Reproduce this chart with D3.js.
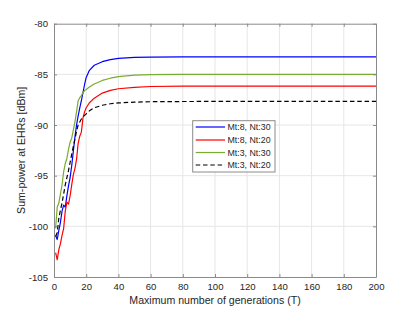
<!DOCTYPE html>
<html>
<head>
<meta charset="utf-8">
<script src="https://cdn.jsdelivr.net/npm/d3@7"></script>
<style>
html,body{margin:0;padding:0;background:#fff;}
svg{display:block;font-family:"Liberation Sans",Arial,Helvetica,sans-serif;}
</style>
</head>
<body>
<svg id="chart" width="415" height="312"></svg>
<script>
// ---- data ----
const generations = [1,2,3,4,5,6,7,8,9,10,11,12,13,14,15,16,17,18,19,20,22,25,30,35,40,50,60,80,100,150,200];
const mt8nt30 = [-100.9,-101.3,-100.4,-99.6,-98.5,-97.9,-98.1,-97.0,-96.0,-95.2,-94.0,-92.6,-91.2,-90.0,-89.1,-88.3,-87.6,-86.8,-86.0,-85.3,-84.6,-84.1,-83.75,-83.55,-83.42,-83.33,-83.3,-83.28,-83.28,-83.28,-83.28];
const mt8nt20 = [-102.6,-103.3,-102.3,-101.7,-100.9,-100.2,-98.5,-97.6,-97.8,-97.0,-95.9,-94.9,-94.3,-93.4,-91.8,-91.1,-90.7,-89.3,-88.7,-88.3,-87.8,-87.35,-86.85,-86.58,-86.42,-86.28,-86.2,-86.17,-86.16,-86.16,-86.16];
const mt3nt30 = [-100.2,-98.1,-97.7,-96.8,-95.9,-94.6,-93.8,-93.3,-92.4,-91.7,-91.3,-90.5,-89.7,-88.7,-87.6,-87.3,-87.1,-86.8,-86.6,-86.5,-86.25,-85.95,-85.6,-85.38,-85.22,-85.08,-85.03,-85.0,-85.0,-85.0,-85.0];
const mt3nt20 = [-101.0,-100.6,-99.2,-98.4,-97.7,-96.8,-95.9,-95.2,-94.5,-93.7,-92.9,-92.1,-91.4,-90.6,-90.0,-89.7,-89.4,-89.2,-89.05,-88.9,-88.6,-88.3,-88.05,-87.9,-87.82,-87.74,-87.7,-87.68,-87.67,-87.67,-87.67];
const seriesNames = ["Mt:8, Nt:30","Mt:8, Nt:20","Mt:3, Nt:30","Mt:3, Nt:20"];
const xTicks = [0,20,40,60,80,100,120,140,160,180,200];
const yTicks = [-105,-100,-95,-90,-85,-80];
const xLabel = "Maximum number of generations (T)";
const yLabel = "Sum-power at EHRs [dBm]";

// ---- layout ----
const L = 54, R = 376, T = 23.7, B = 277;
const svg = d3.select("#chart");
const x = d3.scaleLinear().domain([0,200]).range([L,R]);
const y = d3.scaleLinear().domain([-105,-80]).range([B,T]);

const axisColor = "#8a8a8a";
const textColor = "#262626";

// grid
svg.append("g").selectAll("line").data(xTicks.slice(1,-1)).join("line")
  .attr("x1",d=>x(d)).attr("x2",d=>x(d)).attr("y1",T).attr("y2",B)
  .attr("stroke","#e6e6e6").attr("stroke-width",1);
svg.append("g").selectAll("line").data(yTicks.slice(1,-1)).join("line")
  .attr("y1",d=>y(d)).attr("y2",d=>y(d)).attr("x1",L).attr("x2",R)
  .attr("stroke","#e6e6e6").attr("stroke-width",1);

// series
const seriesData = [mt8nt30, mt8nt20, mt3nt30, mt3nt20];
const colors = ["#0000ff","#ff0000","#77ac30","#000000"];
const dashes = [null,null,null,"4.5,2.8"];
const widths = [1.2,1.2,1.2,1.2];
svg.append("defs").append("clipPath").attr("id","clip")
  .append("rect").attr("x",L).attr("y",T).attr("width",R-L).attr("height",B-T);
const line = d3.line().x((d,i)=>x(generations[i])).y(d=>y(d));
const g = svg.append("g").attr("clip-path","url(#clip)");
seriesData.forEach((s,k)=>{
  g.append("path").datum(s).attr("d",line).attr("fill","none")
   .attr("stroke",colors[k]).attr("stroke-width",widths[k])
   .attr("stroke-linejoin","round")
   .attr("stroke-dasharray",dashes[k]);
});

// axes (box with inside ticks)
const fmt = d => String(d);
const xAxisB = d3.axisBottom(x).tickValues(xTicks).tickFormat(fmt).tickSizeInner(-3).tickSizeOuter(0).tickPadding(6);
const yAxisL = d3.axisLeft(y).tickValues(yTicks).tickFormat(fmt).tickSizeInner(-3).tickSizeOuter(0).tickPadding(6);
const xAxisT = d3.axisTop(x).tickValues(xTicks).tickSizeInner(-3).tickSizeOuter(0).tickFormat("");
const yAxisR = d3.axisRight(y).tickValues(yTicks).tickSizeInner(-3).tickSizeOuter(0).tickFormat("");

function style(sel){
  sel.select(".domain").attr("stroke",axisColor).attr("stroke-width",1);
  sel.selectAll(".tick line").attr("stroke",axisColor);
  sel.selectAll("text").attr("fill",textColor).style("font-size","9.6px")
    .style("font-family",'"Liberation Sans",Arial,sans-serif');
}
svg.append("g").attr("transform",`translate(0,${B})`).call(xAxisB).call(style);
svg.append("g").attr("transform",`translate(${L},0)`).call(yAxisL).call(style);
svg.append("g").attr("transform",`translate(0,${T})`).call(xAxisT).call(style);
svg.append("g").attr("transform",`translate(${R},0)`).call(yAxisR).call(style);

// axis labels
svg.append("text").attr("x",(L+R)/2).attr("y",303.5).attr("text-anchor","middle")
  .attr("fill",textColor).style("font-size","10.6px").text(xLabel);
svg.append("text").attr("transform",`translate(25,${(T+B)/2}) rotate(-90)`)
  .attr("text-anchor","middle").attr("fill",textColor).style("font-size","10.6px").text(yLabel);

// legend
const lg = svg.append("g");
lg.append("rect").attr("x",192.7).attr("y",120.7).attr("width",82.3).attr("height",51.3)
  .attr("fill","#fff").attr("stroke",axisColor).attr("stroke-width",1);
const rowY = [127,140,152.5,165];
seriesNames.forEach((n,k)=>{
  lg.append("line").attr("x1",195.7).attr("x2",225).attr("y1",rowY[k]).attr("y2",rowY[k])
    .attr("stroke",colors[k]).attr("stroke-width",widths[k]).attr("stroke-dasharray",dashes[k]);
  lg.append("text").attr("x",227.5).attr("y",rowY[k]).attr("dy","0.35em")
    .attr("fill",textColor).style("font-size","8.8px").text(n);
});
</script>
</body>
</html>
